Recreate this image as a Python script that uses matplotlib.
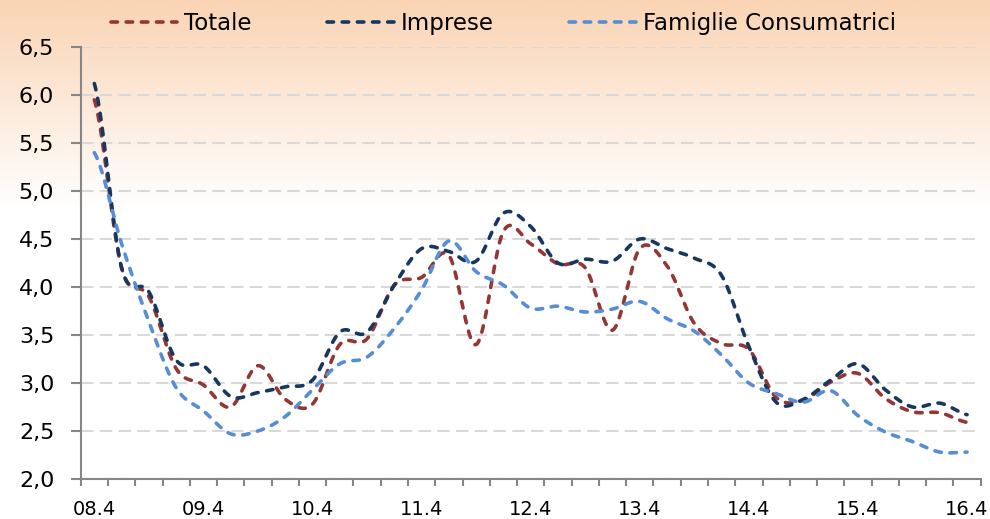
import numpy as np
import matplotlib
matplotlib.use('Agg')
import matplotlib.pyplot as plt
from matplotlib.colors import LinearSegmentedColormap

# quarters 08.4 .. 16.4
quarters = ['08.4', '09.1', '09.2', '09.3', '09.4', '10.1', '10.2', '10.3', '10.4',
            '11.1', '11.2', '11.3', '11.4', '12.1', '12.2', '12.3', '12.4',
            '13.1', '13.2', '13.3', '13.4', '14.1', '14.2', '14.3', '14.4',
            '15.1', '15.2', '15.3', '15.4', '16.1', '16.2', '16.3', '16.4']

totale = [5.95, 4.2, 3.9, 3.15, 2.98, 2.75, 3.18, 2.83, 2.78, 3.4, 3.46,
          4.02, 4.1, 4.33, 3.4, 4.58, 4.45, 4.24, 4.2, 3.55, 4.4, 4.22,
          3.62, 3.41, 3.35, 2.85, 2.82, 3.01, 3.1, 2.84, 2.7, 2.69, 2.59]
imprese = [6.12, 4.2, 3.95, 3.24, 3.18, 2.86, 2.9, 2.96, 3.03, 3.53, 3.53,
           4.02, 4.4, 4.37, 4.27, 4.77, 4.63, 4.25, 4.29, 4.27, 4.5, 4.4,
           4.3, 4.12, 3.38, 2.8, 2.83, 3.03, 3.2, 2.93, 2.75, 2.79, 2.67]
famiglie = [5.4, 4.45, 3.64, 2.95, 2.71, 2.47, 2.5, 2.65, 2.93, 3.2, 3.27,
            3.57, 3.97, 4.48, 4.16, 4.02, 3.78, 3.8, 3.74, 3.77, 3.85, 3.67,
            3.54, 3.29, 3.0, 2.89, 2.8, 2.92, 2.66, 2.49, 2.39, 2.28, 2.28]

series_names = ['Totale', 'Imprese', 'Famiglie Consumatrici']
series_colors = ['#943634', '#17375e', '#558ed5']

y_ticks = [2.0, 2.5, 3.0, 3.5, 4.0, 4.5, 5.0, 5.5, 6.0, 6.5]
y_labels = ['2,0', '2,5', '3,0', '3,5', '4,0', '4,5', '5,0', '5,5', '6,0', '6,5']


def smooth(vals, n=24):
    # cubic hermite (catmull-rom) like excel "smoothed line"
    y = np.asarray(vals, float)
    k = len(y)
    m = np.empty(k)
    m[1:-1] = (y[2:] - y[:-2]) / 2
    m[0] = (y[1] - y[0]) / 2
    m[-1] = (y[-1] - y[-2]) / 2
    xs, ys = [], []
    t = np.linspace(0, 1, n, endpoint=False)
    h00 = 2*t**3 - 3*t**2 + 1
    h10 = t**3 - 2*t**2 + t
    h01 = -2*t**3 + 3*t**2
    h11 = t**3 - t**2
    for i in range(k - 1):
        xs.append(i + t)
        ys.append(h00*y[i] + h10*m[i] + h01*y[i+1] + h11*m[i+1])
    xs.append([k - 1])
    ys.append([y[-1]])
    return np.concatenate(xs), np.concatenate(ys)


fig = plt.figure(figsize=(9.9, 5.19), dpi=100)

# peach gradient background
bg = fig.add_axes([0, 0, 1, 1], zorder=0)
grad = np.linspace(0, 1, 256).reshape(-1, 1)
cmap = LinearSegmentedColormap.from_list('bg', [(0, '#ffffff'), (0.6, '#ffffff'), (1, '#fad4b4')])
bg.imshow(grad, cmap=cmap, aspect='auto', origin='lower', extent=[0, 1, 0, 1])
bg.axis('off')

ax = fig.add_axes([0.0815, 0.0771, 0.9091, 0.8323], zorder=1)
ax.set_facecolor('none')

for vals, name, col in zip([totale, imprese, famiglie], series_names, series_colors):
    xs, ys = smooth(vals)
    ax.plot(xs, ys, color=col, lw=2.6, linestyle=(0, (1.8, 2.4)),
            dash_capstyle='round', label=name, zorder=3)

ax.set_xlim(-0.5, len(quarters) - 0.5)
ax.set_ylim(2.0, 6.5)
ax.set_xticks(range(0, len(quarters), 4))
ax.set_xticklabels(quarters[::4], fontsize=14)
ax.set_xticks(np.arange(-0.5, len(quarters), 1), minor=True)
ax.set_yticks(y_ticks)
ax.set_yticklabels(y_labels, fontsize=16)

ax.tick_params(axis='x', which='major', length=0, pad=15)
ax.tick_params(axis='x', which='minor', length=5, width=1.5, color='#868686')
ax.tick_params(axis='y', length=7, width=1.5, color='#868686', pad=12)

ax.grid(axis='y', color='#d9d9d9', lw=1.5, linestyle=(0, (6, 3)), zorder=1)
ax.set_axisbelow(True)
for s in ['top', 'right']:
    ax.spines[s].set_visible(False)
for s in ['left', 'bottom']:
    ax.spines[s].set_color('#868686')
    ax.spines[s].set_linewidth(1.5)

fig.legend(loc='center left', bbox_to_anchor=(0.112, 0.954), ncol=3, frameon=False,
           fontsize=16.5, handlelength=2.9, handletextpad=0.3, columnspacing=3.3,
           borderpad=0, borderaxespad=0)

fig.savefig('out.png', dpi=100)
